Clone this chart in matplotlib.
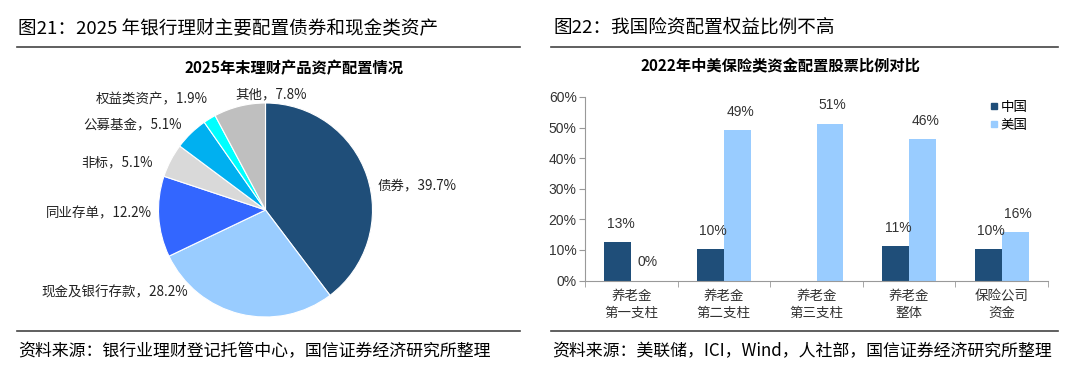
import numpy as np
import matplotlib
matplotlib.use('Agg')
import matplotlib.pyplot as plt
from matplotlib.lines import Line2D

plt.rcParams['font.family'] = ['Noto Sans CJK SC', 'DejaVu Sans']

# 左图：2025年末理财产品资产配置
pie_names = ['债券', '现金及银行存款', '同业存单', '非标', '公募基金', '权益类资产', '其他']
pie_values = [39.7, 28.2, 12.2, 5.1, 5.1, 1.9, 7.8]
pie_colors = ['#1F4E79', '#99CCFF', '#3366FF', '#D9D9D9', '#00B0F0', '#00FFFF', '#BFBFBF']

# 右图：2022年中美保险类资金配置股票比例
bar_cats = ['养老金\n第一支柱', '养老金\n第二支柱', '养老金\n第三支柱', '养老金\n整体', '保险公司\n资金']
china = [12.6, 10.2, np.nan, 11.4, 10.2]
usa = [0, 49.2, 51.3, 46.3, 15.8]
yticks = [0, 10, 20, 30, 40, 50, 60]

W, H = 1080, 379
fig = plt.figure(figsize=(W / 100, H / 100), dpi=100)


def fx(x):
    return x / W


def fy(y):
    return 1 - y / H


# 标题、分隔线和资料来源
fig.text(fx(18), fy(28), '图21：2025 年银行理财主要配置债券和现金类资产', fontsize=13.4, va='center', ha='left')
fig.text(fx(553), fy(28), '图22：我国险资配置权益比例不高', fontsize=13.4, va='center', ha='left')
for x0, x1 in [(17, 520), (551, 1058)]:
    fig.add_artist(Line2D([fx(x0), fx(x1)], [fy(47), fy(47)], color='#444444', lw=1.2))
    fig.add_artist(Line2D([fx(x0), fx(x1)], [fy(331), fy(331)], color='#444444', lw=1.2))
fig.text(fx(18), fy(351), '资料来源：银行业理财登记托管中心，国信证券经济研究所整理', fontsize=12.2, va='center')
fig.text(fx(552), fy(351), '资料来源：美联储，ICI，Wind，人社部，国信证券经济研究所整理', fontsize=12.2, va='center')

# 饼图
cx, cy, r = 265.5, 210, 107
ax1 = fig.add_axes([fx(cx - r), fy(cy + r), (2 * r) / W, (2 * r) / H])
ax1.pie(pie_values, colors=pie_colors, startangle=90, counterclock=False,
        wedgeprops=dict(edgecolor='white', linewidth=0.8))
ax1.set_xlim(-1, 1)
ax1.set_ylim(-1, 1)
ax1.set_aspect('auto')
ax1.axis('off')
fig.text(fx(294), fy(68), '2025年末理财产品资产配置情况', fontsize=11, fontweight='bold', ha='center', va='center')

label_pos = [(378, 185, 'left'), (188, 292, 'right'), (152, 213, 'right'), (153, 162, 'right'),
             (182, 124, 'right'), (208, 99, 'right'), (271, 94, 'center')]
for name, v, (lx, ly, ha) in zip(pie_names, pie_values, label_pos):
    fig.text(fx(lx), fy(ly), f'{name}，{v:.1f}%', fontsize=9.7, ha=ha, va='center', color='#222222')

# 柱状图
ax2 = fig.add_axes([fx(585), fy(280.5), (1048 - 585) / W, (280.5 - 97) / H])
x = np.arange(len(bar_cats))
bw = 0.29
ax2.bar(x - bw / 2, china, bw, color='#1F4E79', label='中国')
ax2.bar(x + bw / 2, usa, bw, color='#99CCFF', label='美国')
ax2.set_xlim(-0.5, len(bar_cats) - 0.5)
ax2.set_ylim(0, 60)
ax2.set_yticks(yticks)
ax2.set_yticklabels([f'{t}%' for t in yticks], family='Liberation Sans', fontsize=10, color='#333333')
ax2.set_xticks(x)
ax2.set_xticklabels(bar_cats, fontsize=9.7, color='#333333', linespacing=1.3)
ax2.set_xticks(np.arange(len(bar_cats) + 1) - 0.5, minor=True)
ax2.tick_params(axis='x', which='major', length=0, pad=6)
ax2.tick_params(axis='x', which='minor', length=4, color='#999999')
ax2.tick_params(axis='y', length=4, color='#999999', pad=2)
for s in ['top', 'right']:
    ax2.spines[s].set_visible(False)
for s in ['left', 'bottom']:
    ax2.spines[s].set_color('#999999')

for xs, vals in [(x - bw / 2, china), (x + bw / 2, usa)]:
    for xi, v in zip(xs, vals):
        if np.isnan(v):
            continue
        ax2.annotate(f'{v:.0f}%', (xi, v), xytext=(2, 8), textcoords='offset points',
                     ha='center', va='bottom', family='Liberation Sans', fontsize=10, color='#333333')

handles = [Line2D([], [], marker='s', ls='', color='#1F4E79', markersize=5),
           Line2D([], [], marker='s', ls='', color='#99CCFF', markersize=5)]
ax2.legend(handles, ['中国', '美国'], loc='upper left', bbox_to_anchor=(0.86, 1.02), frameon=False,
           fontsize=9.7, handlelength=0.6, handletextpad=0.2, labelspacing=0.3, borderpad=0)

fig.text(fx(780), fy(66), '2022年中美保险类资金配置股票比例对比', fontsize=11, fontweight='bold', ha='center', va='center')

fig.savefig('out.png', dpi=100)
